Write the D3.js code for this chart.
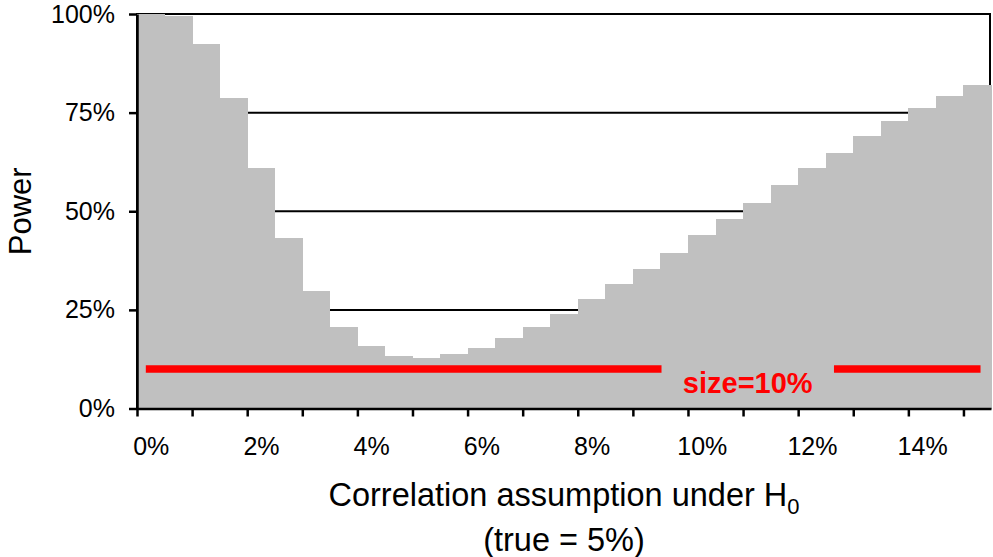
<!DOCTYPE html>
<html>
<head>
<meta charset="utf-8">
<script src="https://cdn.jsdelivr.net/npm/d3@7"></script>
<style>
  body { margin: 0; background: #fff; }
  svg { display: block; font-family: "Liberation Sans", Arial, sans-serif; }
</style>
</head>
<body>
<svg width="993" height="557"></svg>
<script>
// correlation assumption under H0 (in %), one bar every 0.5%
var correlations = d3.range(0, 15.01, 0.5);
// power
var powerValues = [1.000, 0.995, 0.925, 0.788, 0.610, 0.431, 0.298, 0.207, 0.158, 0.134,
                   0.129, 0.137, 0.154, 0.179, 0.207, 0.239, 0.277, 0.315, 0.353, 0.395,
                   0.441, 0.480, 0.521, 0.566, 0.609, 0.648, 0.690, 0.728, 0.762, 0.792, 0.821];
var yTicks = [0, 0.25, 0.5, 0.75, 1];
var xLabels = [0, 2, 4, 6, 8, 10, 12, 14];
// size reference line (10%), drawn in two pieces around its label
var sizeLevel = 0.10;
var sizeSegments = [[-0.09, 9.27], [12.40, 15.06]];
var sizeLabel = "size=10%";

d3.select(window).on('load', init);

function init() {
    var svg = d3.select('svg');
    var left = 137, right = 991, top = 14, bottom = 408.5;

    var x = d3.scaleLinear().domain([-0.25, 15.25]).range([left, right]);
    var y = d3.scaleLinear().domain([0, 1]).range([bottom, top]);

    var data = correlations.map(function(c, i) { return {c: c, p: powerValues[i]}; });

    // plot frame
    svg.append("rect")
        .attr("x", left).attr("y", top)
        .attr("width", right - left - 1).attr("height", bottom - top)
        .attr("fill", "none").attr("stroke", "#000").attr("stroke-width", 2);

    // gridlines
    svg.append("g")
        .selectAll("line")
        .data(yTicks.filter(function(d) { return d > 0; }))
        .enter()
        .append("line")
        .attr("x1", left).attr("x2", right - 1)
        .attr("y1", function(d) { return y(d); })
        .attr("y2", function(d) { return y(d); })
        .attr("stroke", "#000").attr("stroke-width", 2);

    // bars
    svg.append("g")
        .selectAll("rect")
        .data(data)
        .enter()
        .append("rect")
        .attr("x", function(d) { return x(d.c - 0.25); })
        .attr("width", function(d) { return x(d.c + 0.25) - x(d.c - 0.25) + 0.5; })
        .attr("y", function(d) { return y(d.p); })
        .attr("height", function(d) { return y(0) - y(d.p); })
        .attr("fill", "#c0c0c0")
        .attr("shape-rendering", "crispEdges");

    // size line
    svg.append("g")
        .selectAll("line")
        .data(sizeSegments)
        .enter()
        .append("line")
        .attr("x1", function(d) { return x(d[0]); })
        .attr("x2", function(d) { return x(d[1]); })
        .attr("y1", y(sizeLevel)).attr("y2", y(sizeLevel))
        .attr("stroke", "#ff0000").attr("stroke-width", 7.5);

    svg.append("text")
        .attr("x", x((sizeSegments[0][1] + sizeSegments[1][0]) / 2))
        .attr("y", 393)
        .attr("text-anchor", "middle")
        .attr("font-size", 29).attr("font-weight", "bold")
        .attr("fill", "#ff0000")
        .text(sizeLabel);

    // y axis
    var yAxis = svg.append("g")
        .attr("transform", "translate(" + left + ",0)")
        .call(d3.axisLeft(y).tickValues(yTicks).tickFormat(d3.format(".0%"))
              .tickSize(8).tickSizeOuter(0).tickPadding(14));
    yAxis.select(".domain").attr("stroke-width", 2.5);
    yAxis.selectAll(".tick line").attr("stroke-width", 2.5);
    yAxis.selectAll("text").attr("font-size", 25).attr("font-family", null).attr("fill", "#000");

    // x axis: tick marks between every two bars
    var tickMarks = d3.range(0, 16).map(function(k) { return k - 0.25; });
    var xAxis = svg.append("g")
        .attr("transform", "translate(0," + bottom + ")")
        .call(d3.axisBottom(x).tickValues(tickMarks).tickFormat("")
              .tickSize(8).tickSizeOuter(0));
    xAxis.select(".domain").attr("stroke-width", 2.5);
    xAxis.selectAll(".tick line").attr("stroke-width", 2.5);

    var xLab = svg.append("g")
        .attr("transform", "translate(0," + bottom + ")")
        .call(d3.axisBottom(x).tickValues(xLabels)
              .tickFormat(function(d) { return d + "%"; })
              .tickSize(0).tickPadding(28.5));
    xLab.select(".domain").remove();
    xLab.selectAll("text").attr("font-size", 25).attr("font-family", null).attr("fill", "#000");

    // titles
    var title = svg.append("text")
        .attr("x", (left + right) / 2)
        .attr("y", 506)
        .attr("text-anchor", "middle")
        .attr("font-size", 32.5);
    title.append("tspan").text("Correlation assumption under H");
    title.append("tspan").attr("font-size", 22).attr("dy", 8).text("0");

    svg.append("text")
        .attr("x", (left + right) / 2)
        .attr("y", 551)
        .attr("text-anchor", "middle")
        .attr("font-size", 32.5)
        .text("(true = 5%)");

    svg.append("text")
        .attr("transform", "translate(31," + ((top + bottom) / 2) + ") rotate(-90)")
        .attr("text-anchor", "middle")
        .attr("font-size", 31)
        .text("Power");
}
</script>
</body>
</html>
